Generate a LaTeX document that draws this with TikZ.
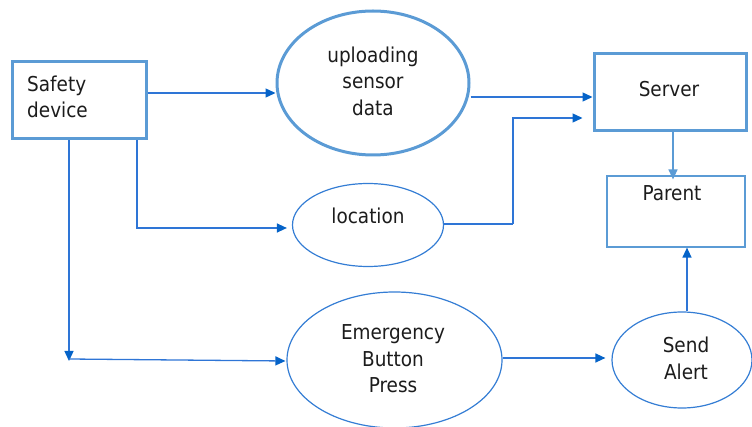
\documentclass[tikz,border=0pt]{standalone}
\usepackage{fontspec}
\setmainfont{DejaVu Sans Condensed}
\usetikzlibrary{shapes.geometric,arrows.meta}
\definecolor{boxblue}{RGB}{91,155,213}
\definecolor{lineblue}{RGB}{46,117,214}
\definecolor{headblue}{RGB}{5,99,200}
\definecolor{ellblue}{RGB}{52,125,212}
\definecolor{txt}{RGB}{28,28,28}
\tikzset{
  lbl/.style={font=\fontsize{20.5}{26.5}\selectfont, text=txt, align=center, inner sep=0pt},
  thickbox/.style={draw=boxblue, line width=3pt, rectangle, inner sep=0pt},
  thinbox/.style={draw=boxblue, line width=1.2pt, rectangle, inner sep=0pt},
  thickell/.style={draw=boxblue, line width=3pt, ellipse, inner sep=0pt},
  thinell/.style={draw=ellblue, line width=1.2pt, ellipse, inner sep=0pt},
  arr/.style={draw=lineblue, line width=1.3pt, -{Triangle[length=10pt,width=9pt,fill=headblue,color=headblue]}},
  plain/.style={draw=lineblue, line width=1.3pt},
  lightarr/.style={draw=boxblue, line width=1.3pt, -{Triangle[length=10pt,width=9pt,fill=boxblue,color=boxblue]}}
}
\begin{document}
\begin{tikzpicture}[x=1pt,y=-1pt]
\useasboundingbox (0,0) rectangle (752,427);
% shapes
\node[thickbox, minimum width=134pt, minimum height=77pt] (sd) at (79,100.5) {};
\node[lbl, align=left, anchor=west] (sdT) at (27,97) {Safety\\device};
\node[thickell, minimum width=192pt, minimum height=144pt] (up) at (373,83) {};
\node[lbl] (upT) at (373,81) {uploading\\sensor\\data};
\node[thickbox, minimum width=152pt, minimum height=77pt] (srv) at (670,92.5) {};
\node[lbl] (srvT) at (669,89) {Server};
\node[thinbox, minimum width=138pt, minimum height=71pt] (par) at (676,211.5) {};
\node[lbl] (parT) at (672,193) {Parent};
\node[thinell, minimum width=151pt, minimum height=83pt] (loc) at (368,225) {};
\node[lbl] (locT) at (368,216) {location};
\node[thinell, minimum width=215pt, minimum height=136pt] (em) at (394.5,360) {};
\node[lbl] (emT) at (393,359) {Emergency\\Button\\Press};
\node[thinell, minimum width=140pt, minimum height=96pt] (sa) at (682,360) {};
\node[lbl] (saT) at (686,358.5) {Send\\Alert};
% helper coordinates
\coordinate (bend1) at (137,228);
\coordinate (bend2) at (69,360);
\coordinate (bend3) at (513,224);
% connectors
\draw[arr] (sd.east |- 0,93) -- (up.west |- 0,93);
\draw[arr] (up.east |- 0,97) -- (srv.west |- 0,97);
\draw[arr] (sd.south -| bend1) -- (bend1) -- ([xshift=-5pt]loc.west |- bend1);
\draw[arr] (sd.south -| bend2) -- ([yshift=-1pt]bend2);
\draw[arr] ([yshift=1pt]bend2) -- ([xshift=-1pt]em.west |- 0,361);
\draw[plain] (loc.east |- 0,224) -- (bend3);
\draw[arr] (bend3) |- ([xshift=-10pt]srv.west |- 0,118);
\draw[lightarr] (srv.south -| 673,0) -- ([yshift=-4pt]par.north -| 673,0);
\draw[arr] (sa.north -| 687,0) -- (par.south -| 687,0);
\draw[arr] (em.east |- 0,358) -- ([xshift=-6pt]sa.west |- 0,358);
\end{tikzpicture}
\end{document}
